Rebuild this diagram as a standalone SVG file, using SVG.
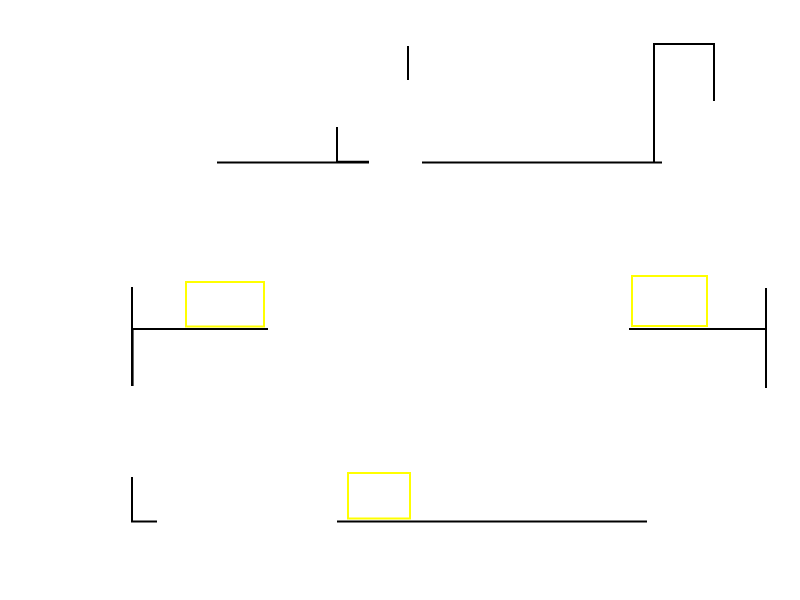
<svg xmlns="http://www.w3.org/2000/svg" width="800" height="600" viewBox="0 0 800 600">
<style>
.c{fill:none;stroke:#000;stroke-width:2}
.n{fill:none;stroke:#ffff00;stroke-width:2}
</style>
<rect width="800" height="600" fill="#fff"/>
<g id="connectors">
<path class="c" d="M217,162.5 H369"/>
<path class="c" d="M337,127 V161.8 H369"/>
<path class="c" d="M408,46 V80"/>
<path class="c" d="M422,162.5 H662"/>
<path class="c" d="M654,162.5 V44 H714 V101"/>
<path class="c" d="M132,287 V386"/>
<path class="c" d="M132.6,329 H268"/>
<path class="c" d="M132.6,329 V386"/>
<path class="c" d="M629,329 H766"/>
<path class="c" d="M766,288 V388"/>
<path class="c" d="M132,477 V521.5 H157"/>
<path class="c" d="M337,521.5 H647"/>
</g>
<g id="node1"><rect class="n" x="186" y="282" width="78" height="44.5"/></g>
<g id="node2"><rect class="n" x="632" y="276" width="75" height="50"/></g>
<g id="node3"><rect class="n" x="348" y="473" width="62" height="45.5"/></g>
</svg>
